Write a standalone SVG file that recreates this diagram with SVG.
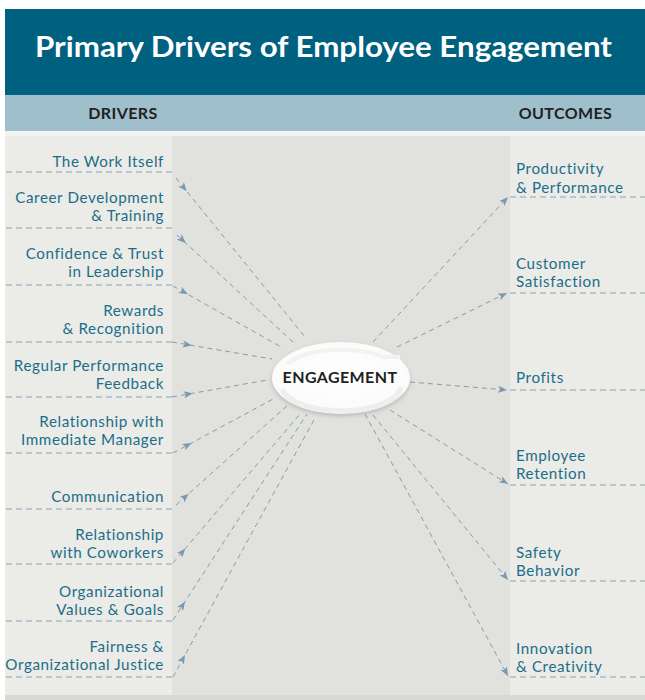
<svg xmlns="http://www.w3.org/2000/svg" width="645" height="700" viewBox="0 0 645 700">
<style>
.t{font-family:Lato,"Liberation Sans",sans-serif;font-size:15.2px;letter-spacing:0.6px;fill:#1B6E8A}
.l{text-anchor:end}
.h{font-family:Lato,"Liberation Sans",sans-serif;font-weight:bold;font-size:16px;letter-spacing:0.4px;fill:#231F20;text-anchor:middle}
.rule{stroke:#87A3B8;stroke-width:1;stroke-dasharray:6 4;fill:none}
.c{stroke:#7F9DB4;stroke-width:1;stroke-dasharray:5 4;fill:none}
.cm{marker-mid:url(#ah)}
.ce{marker-end:url(#ah)}
</style>
<defs>
<marker id="ah" viewBox="0 0 10 8" refX="10" refY="4" markerWidth="9" markerHeight="7.2" orient="auto" markerUnits="userSpaceOnUse">
<path d="M0,0 L10,4 L0,8 L2.5,4 z" fill="#7A98B0"/>
</marker>
<filter id="sh" x="-20%" y="-30%" width="140%" height="170%">
<feDropShadow dx="0" dy="2" stdDeviation="2" flood-color="#888" flood-opacity="0.45"/>
</filter>
<radialGradient id="eg" cx="0.5" cy="0.45" r="0.6">
<stop offset="0" stop-color="#FFFFFF"/>
<stop offset="0.8" stop-color="#FBFBFB"/>
<stop offset="1" stop-color="#F1F1F1"/>
</radialGradient>
</defs>
<rect x="0" y="0" width="645" height="700" fill="#FFFFFF"/>
<rect x="5" y="9" width="640" height="86" fill="#00607F"/>
<rect x="5" y="95" width="640" height="36" fill="#9EBFCB"/>
<rect x="5" y="131" width="640" height="5" fill="#F3F3F1"/>
<rect x="5" y="136" width="167" height="559" fill="#EBEBE7"/>
<rect x="172" y="136" width="338" height="559" fill="#E1E2DD"/>
<rect x="510" y="136" width="135" height="559" fill="#EBEBE7"/>
<rect x="5" y="695" width="640" height="5" fill="#D8D9D3"/>
<g id="title">
<text x="323.5" y="57" font-family="Lato,'Liberation Sans',sans-serif" font-weight="bold" font-size="28" fill="#FFFFFF" text-anchor="middle" textLength="577" lengthAdjust="spacingAndGlyphs">Primary Drivers of Employee Engagement</text>
</g>
<g id="col-headers">
<text class="h" x="123" y="119">DRIVERS</text>
<text class="h" x="565.5" y="119">OUTCOMES</text>
</g>
<g id="connectors">
<path class="c cm" d="M176,178 L186.7,191.2 L305,337"/>
<path class="c cm" d="M177,235 L185.8,243.1 L293,342"/>
<path class="c cm" d="M173,286 L187.8,294.3 L283,348"/>
<path class="c cm" d="M172,342 L191.7,345.4 L272,359"/>
<path class="c cm" d="M172,397 L192.7,393.3 L267,380"/>
<path class="c cm" d="M173,453 L191.5,443 L275,398"/>
<path class="c cm" d="M176,505 L188.7,493.7 L288,405"/>
<path class="c cm" d="M173,563 L185.3,548.5 L300,414"/>
<path class="c cm" d="M173,620 L185,601.6 L307,414"/>
<path class="c cm" d="M173,677 L185,655 L315,418"/>
<path class="c ce" d="M373,342 L508,197"/>
<path class="c ce" d="M397,347 L507,293"/>
<path class="c ce" d="M410,382 L507,390"/>
<path class="c ce" d="M390,410 L508,484"/>
<path class="c ce" d="M373,415 L508,580"/>
<path class="c ce" d="M365,414 L508,676"/>
</g>
<g id="drv-work">
<text class="t l" x="164" y="167">The Work Itself</text>
<line class="rule" x1="6" y1="172" x2="172" y2="172"/>
</g>
<g id="drv-career">
<text class="t l" x="164" y="202.5">Career Development</text>
<text class="t l" x="164" y="221">&amp; Training</text>
<line class="rule" x1="6" y1="228" x2="172" y2="228"/>
</g>
<g id="drv-confidence">
<text class="t l" x="164" y="258.5">Confidence &amp; Trust</text>
<text class="t l" x="164" y="277">in Leadership</text>
<line class="rule" x1="6" y1="285" x2="172" y2="285"/>
</g>
<g id="drv-rewards">
<text class="t l" x="164" y="315.5">Rewards</text>
<text class="t l" x="164" y="334">&amp; Recognition</text>
<line class="rule" x1="6" y1="342" x2="172" y2="342"/>
</g>
<g id="drv-feedback">
<text class="t l" x="164" y="370.5">Regular Performance</text>
<text class="t l" x="164" y="389">Feedback</text>
<line class="rule" x1="6" y1="397" x2="172" y2="397"/>
</g>
<g id="drv-manager">
<text class="t l" x="164" y="426.5">Relationship with</text>
<text class="t l" x="164" y="445">Immediate Manager</text>
<line class="rule" x1="6" y1="453" x2="172" y2="453"/>
</g>
<g id="drv-communication">
<text class="t l" x="164" y="502">Communication</text>
<line class="rule" x1="6" y1="509" x2="172" y2="509"/>
</g>
<g id="drv-coworkers">
<text class="t l" x="164" y="539.5">Relationship</text>
<text class="t l" x="164" y="558">with Coworkers</text>
<line class="rule" x1="6" y1="564" x2="172" y2="564"/>
</g>
<g id="drv-values">
<text class="t l" x="164" y="596.5">Organizational</text>
<text class="t l" x="164" y="615">Values &amp; Goals</text>
<line class="rule" x1="6" y1="621" x2="172" y2="621"/>
</g>
<g id="drv-fairness">
<text class="t l" x="164" y="651.5">Fairness &amp;</text>
<text class="t l" x="164" y="670">Organizational Justice</text>
<line class="rule" x1="6" y1="677" x2="172" y2="677"/>
</g>
<g id="out-productivity">
<text class="t" x="516" y="174">Productivity</text>
<text class="t" x="516" y="192.5">&amp; Performance</text>
<line class="rule" x1="510" y1="197" x2="645" y2="197"/>
</g>
<g id="out-customer">
<text class="t" x="516" y="268.5">Customer</text>
<text class="t" x="516" y="287">Satisfaction</text>
<line class="rule" x1="510" y1="293" x2="645" y2="293"/>
</g>
<g id="out-profits">
<text class="t" x="516" y="383">Profits</text>
<line class="rule" x1="510" y1="390" x2="645" y2="390"/>
</g>
<g id="out-retention">
<text class="t" x="516" y="460.5">Employee</text>
<text class="t" x="516" y="479">Retention</text>
<line class="rule" x1="510" y1="485" x2="645" y2="485"/>
</g>
<g id="out-safety">
<text class="t" x="516" y="557.5">Safety</text>
<text class="t" x="516" y="576">Behavior</text>
<line class="rule" x1="510" y1="581" x2="645" y2="581"/>
</g>
<g id="out-innovation">
<text class="t" x="516" y="653.5">Innovation</text>
<text class="t" x="516" y="672">&amp; Creativity</text>
<line class="rule" x1="510" y1="677" x2="645" y2="677"/>
</g>
<g id="engagement">
<ellipse cx="341" cy="378" rx="69" ry="36" fill="url(#eg)" filter="url(#sh)"/>
<path d="M282,389 A60,26 0 0 0 401,387" fill="none" stroke="#EEEEEE" stroke-width="5"/>
<path d="M288,364 A58,23 0 0 1 384,357 L400,357" fill="none" stroke="#F2F2F2" stroke-width="4"/>
<text x="340" y="383" font-family="Lato,'Liberation Sans',sans-serif" font-weight="bold" font-size="16" letter-spacing="0.4" fill="#231F20" text-anchor="middle">ENGAGEMENT</text>
</g>
</svg>
